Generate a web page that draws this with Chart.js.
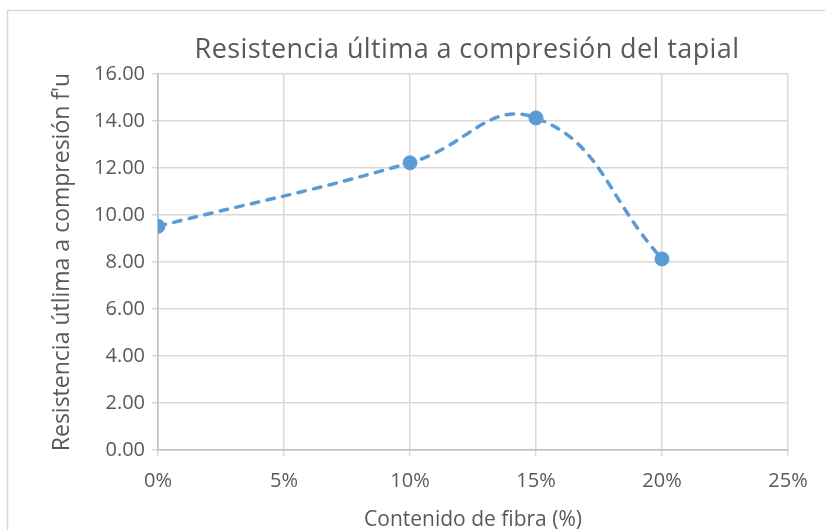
<!DOCTYPE html>
<html>
<head>
<meta charset="utf-8">
<script src="https://cdn.jsdelivr.net/npm/chart.js@4/dist/chart.umd.min.js"></script>
<style>
  html, body { margin: 0; padding: 0; background: #ffffff; }
  #wrap { position: relative; width: 825px; height: 530px; }
  canvas { display: block; }
</style>
</head>
<body>
<div id="wrap"><canvas id="c" width="825" height="530"></canvas></div>
<script>
// ---- data ----
const chartTitle = "Resistencia última a compresión del tapial";
const xAxisTitle = "Contenido de fibra (%)";
const yAxisTitle = "Resistencia útlima a compresión f'u";
const fiberPercent = [0, 10, 15, 20];
const strength = [9.52, 12.22, 14.13, 8.13];
const xTicksPercent = [0, 5, 10, 15, 20, 25];
const yTicks = [0, 2, 4, 6, 8, 10, 12, 14, 16];

const points = fiberPercent.map((x, i) => ({ x: x, y: strength[i] }));
const FONT = "'Open Sans', sans-serif";
const TEXT = '#595959';
const BLUE = '#5B9BD5';

const framePlugin = {
  id: 'frame',
  beforeDraw(chart) {
    const ctx = chart.ctx;
    ctx.save();
    ctx.fillStyle = '#ffffff';
    ctx.fillRect(0, 0, chart.width, chart.height);
    ctx.strokeStyle = '#d9d9d9';
    ctx.lineWidth = 1.5;
    ctx.strokeRect(7.5, 10.5, 830, 540);
    ctx.restore();
  },
  afterDraw(chart) {
    const ctx = chart.ctx;
    ctx.save();
    ctx.fillStyle = TEXT;
    ctx.font = "27px " + FONT;
    if ('letterSpacing' in ctx) ctx.letterSpacing = '0.4px';
    ctx.textAlign = 'center';
    ctx.textBaseline = 'middle';
    ctx.fillText(chartTitle, 467, 50);
    if ('letterSpacing' in ctx) ctx.letterSpacing = '0px';
    ctx.restore();
  }
};

new Chart(document.getElementById('c'), {
  type: 'scatter',
  data: {
    datasets: [{
      data: points,
      showLine: true,
      borderColor: BLUE,
      borderWidth: 3.5,
      borderDash: [7.5, 8.5],
      borderCapStyle: 'round',
      tension: 0.45,
      pointRadius: 7,
      pointBorderWidth: 1,
      pointBackgroundColor: BLUE,
      pointBorderColor: BLUE,
      fill: false
    }]
  },
  plugins: [framePlugin],
  options: {
    responsive: false,
    animation: false,
    layout: { padding: { top: 74, right: 37, left: 0, bottom: 0 } },
    plugins: { legend: { display: false }, tooltip: { enabled: false }, title: { display: false } },
    scales: {
      x: {
        type: 'linear',
        min: 0, max: 25,
        afterBuildTicks(scale) { scale.ticks = xTicksPercent.map(v => ({ value: v })); },
        afterFit(scale) { scale.height = 80; },
        grid: { color: '#d9d9d9', lineWidth: 1.5, tickLength: 6, drawTicks: true },
        border: { color: '#bfbfbf', width: 1.5 },
        ticks: { color: TEXT, font: { family: FONT, size: 20 }, padding: 13, maxRotation: 0,
                 callback: v => v + '%' },
        title: { display: true, text: xAxisTitle, color: TEXT, font: { family: FONT, size: 21 },
                 padding: { top: 0, bottom: -3 } }
      },
      y: {
        type: 'linear',
        min: 0, max: 16,
        afterBuildTicks(scale) { scale.ticks = yTicks.map(v => ({ value: v })); },
        afterFit(scale) { scale.width = 158; },
        grid: { color: '#d9d9d9', lineWidth: 1.5, tickLength: 6, drawTicks: true },
        border: { color: '#bfbfbf', width: 1.5 },
        ticks: { color: TEXT, font: { family: FONT, size: 20 }, padding: 7,
                 callback: v => Number(v).toFixed(2) },
        title: { display: true, text: yAxisTitle, color: TEXT, font: { family: FONT, size: 23 },
                 padding: { top: 49, bottom: 0 } }
      }
    }
  }
});
</script>
</body>
</html>
